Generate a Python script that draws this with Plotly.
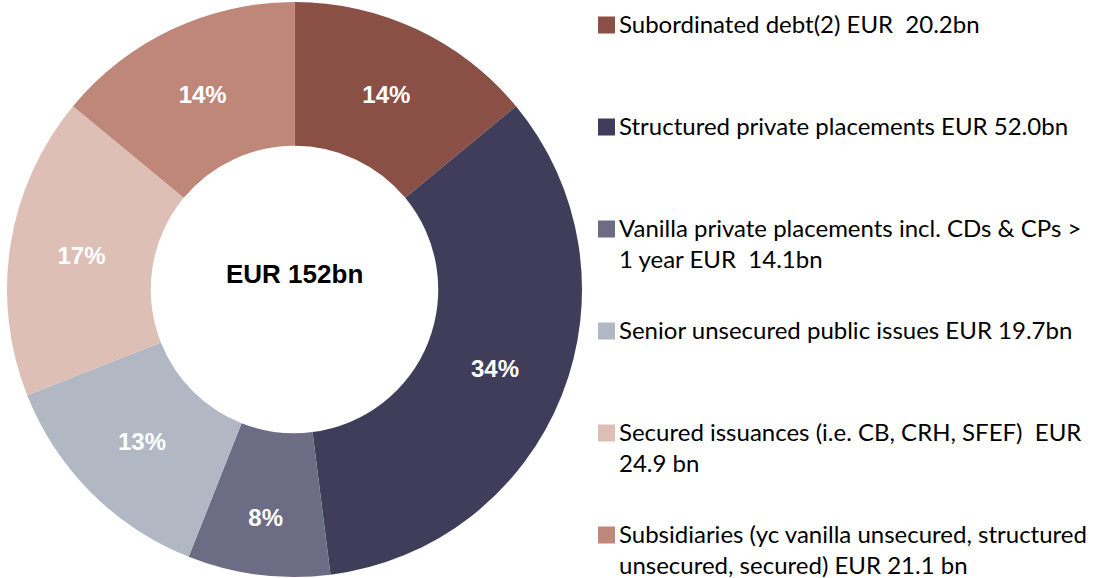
import plotly.graph_objects as go

# ---- data ----
categories = [
    "Subordinated debt(2)",
    "Structured private placements",
    "Vanilla private placements incl. CDs & CPs > 1 year",
    "Senior unsecured public issues",
    "Secured issuances (i.e. CB, CRH, SFEF)",
    "Subsidiaries (yc vanilla unsecured, structured unsecured, secured)",
]
amounts_bn = [20.2, 52.0, 14.1, 19.7, 24.9, 21.1]
shares_pct = [14, 34, 8, 13, 17, 14]
legend_labels = [
    "Subordinated debt(2) EUR  20.2bn",
    "Structured private placements EUR 52.0bn",
    "Vanilla private placements incl. CDs &amp; CPs &gt;<br>1 year EUR  14.1bn",
    "Senior unsecured public issues EUR 19.7bn",
    "Secured issuances (i.e. CB, CRH, SFEF)  EUR<br>24.9 bn",
    "Subsidiaries (yc vanilla unsecured, structured<br>unsecured, secured) EUR 21.1 bn",
]
colors = ["#8B5045", "#403D5A", "#6D6C85", "#B1B8C4", "#DDBFB6", "#BE877A"]
center_label = "EUR 152bn"

W, H = 1111, 578

fig = go.Figure(
    go.Pie(
        labels=categories,
        values=shares_pct,
        customdata=amounts_bn,
        sort=False,
        direction="clockwise",
        rotation=0,
        hole=0.5,
        marker=dict(colors=colors, line=dict(width=0)),
        texttemplate="<b>%{percent:.0%}</b>",
        textposition="inside",
        insidetextorientation="horizontal",
        textfont=dict(family="Liberation Sans, Arial", size=24, color="white"),
        domain=dict(x=[7 / W, 582 / W], y=[1 / H, 576 / H]),
        showlegend=False,
        hovertemplate="%{label}<br>EUR %{customdata}bn<extra></extra>",
    )
)

# centre label
fig.add_annotation(
    x=294.5 / W, y=1 - 274 / H, xref="paper", yref="paper",
    text=f"<b>{center_label}</b>", showarrow=False,
    font=dict(family="Liberation Sans, Arial", size=26, color="black"),
    xanchor="center", yanchor="middle",
)

# custom legend (squares + text)
row0, row_step, line_h = 25, 102, 31.5
for i, (lab, col) in enumerate(zip(legend_labels, colors)):
    yc = row0 + row_step * i
    fig.add_shape(
        type="rect", xref="paper", yref="paper",
        x0=598 / W, x1=615 / W, y0=1 - (yc - 8.5) / H, y1=1 - (yc + 8.5) / H,
        fillcolor=col, line=dict(width=0),
    )
    fig.add_annotation(
        x=617 / W, y=1 - (yc - 2 - line_h / 2) / H, xref="paper", yref="paper",
        text=lab, showarrow=False, align="left",
        xanchor="left", yanchor="top",
        font=dict(family="Lato, Carlito, Calibri", size=24, color="black"),
    )

fig.update_layout(
    width=W, height=H,
    margin=dict(l=0, r=0, t=0, b=0),
    paper_bgcolor="white", plot_bgcolor="white",
)

fig.write_html(
    "out.html",
    config={"displayModeBar": False},
    post_script="document.body.style.margin='0';document.body.style.overflow='hidden';",
)
